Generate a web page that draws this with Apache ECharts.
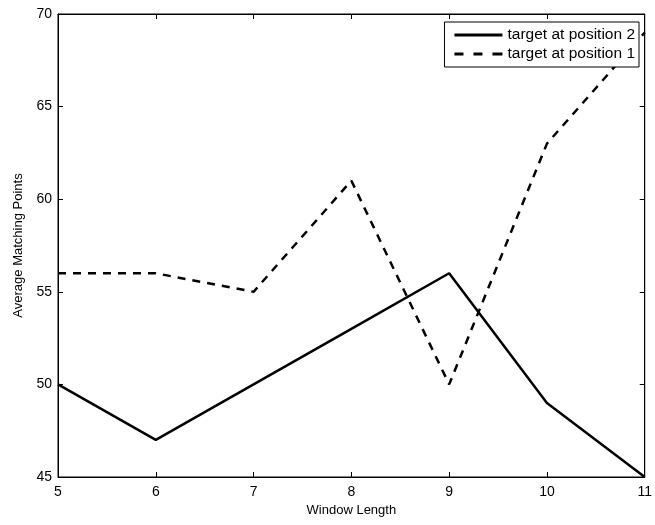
<!DOCTYPE html>
<html>
<head>
<meta charset="utf-8">
<script src="https://cdn.jsdelivr.net/npm/echarts@6/dist/echarts.min.js"></script>
<style>
  html, body { margin: 0; padding: 0; background: #fff; }
  #mainChart { width: 655px; height: 525px; }
</style>
</head>
<body>
<div id="mainChart"></div>
<script>
var windowLengths = [5, 6, 7, 8, 9, 10, 11];
var targetPos2 = [50, 47, 50, 53, 56, 49, 45];
var targetPos1 = [56, 56, 55, 61, 50, 63, 69];
var seriesNames = ['target at position 2', 'target at position 1'];

function pairs(xs, ys) {
  return xs.map(function (x, i) { return [x, ys[i]]; });
}

function chartInit() {
  var myChart = echarts.init(document.getElementById('mainChart'));
  var font = 'Liberation Sans, Arial, Helvetica, sans-serif';
  var tickStyle = { show: true, inside: true, length: 5, lineStyle: { color: '#000', width: 1 } };

  // legend icons: solid bar and dashed bar
  var solidIcon = 'path://M0,0h48v3h-48z';
  var dashIcon = 'path://M0,0h9v3h-9z M19,0h9v3h-9z M38,0h10v3h-10z';

  var option = {
    backgroundColor: '#fff',
    animation: false,
    grid: { left: 58, right: 10, top: 14, bottom: 48, show: true, borderColor: '#000', borderWidth: 1 },
    legend: {
      data: [
        { name: seriesNames[0], icon: solidIcon },
        { name: seriesNames[1], icon: dashIcon }
      ],
      right: 16, top: 22,
      orient: 'vertical',
      backgroundColor: '#fff',
      borderColor: '#000',
      borderWidth: 1,
      padding: [5, 4, 5, 10],
      itemGap: 3,
      itemWidth: 48,
      itemHeight: 3,
      textStyle: { fontFamily: font, fontSize: 15.5, color: '#000', lineHeight: 16 }
    },
    xAxis: [{
      type: 'value', min: 5, max: 11, interval: 1,
      name: 'Window Length', nameLocation: 'middle', nameGap: 26,
      nameTextStyle: { fontFamily: font, fontSize: 13, color: '#000' },
      axisLine: { show: true, lineStyle: { color: '#000', width: 1 } },
      axisTick: tickStyle,
      axisLabel: { fontFamily: font, fontSize: 14, color: '#000', margin: 8 },
      splitLine: { show: false }
    }, {
      type: 'value', min: 5, max: 11, interval: 1, position: 'top',
      axisLine: { show: true, lineStyle: { color: '#000' } },
      axisTick: tickStyle,
      axisLabel: { show: false },
      splitLine: { show: false }
    }],
    yAxis: [{
      type: 'value', min: 45, max: 70, interval: 5,
      name: 'Average Matching Points', nameLocation: 'middle', nameGap: 33,
      nameTextStyle: { fontFamily: font, fontSize: 13, color: '#000' },
      axisLine: { show: true, lineStyle: { color: '#000', width: 1 } },
      axisTick: tickStyle,
      axisLabel: { fontFamily: font, fontSize: 14, color: '#000', margin: 6 },
      splitLine: { show: false }
    }, {
      type: 'value', min: 45, max: 70, interval: 5, position: 'right',
      axisLine: { show: true, lineStyle: { color: '#000' } },
      axisTick: tickStyle,
      axisLabel: { show: false },
      splitLine: { show: false }
    }],
    series: [{
      name: seriesNames[0],
      type: 'line',
      data: pairs(windowLengths, targetPos2),
      symbol: 'none',
      lineStyle: { color: '#000', width: 2.5, type: 'solid' },
      itemStyle: { color: '#000' }
    }, {
      name: seriesNames[1],
      type: 'line',
      data: pairs(windowLengths, targetPos1),
      symbol: 'none',
      lineStyle: { color: '#000', width: 2.5, type: [8, 7] },
      itemStyle: { color: '#000' }
    }]
  };
  myChart.setOption(option);
}

chartInit();
</script>
</body>
</html>
